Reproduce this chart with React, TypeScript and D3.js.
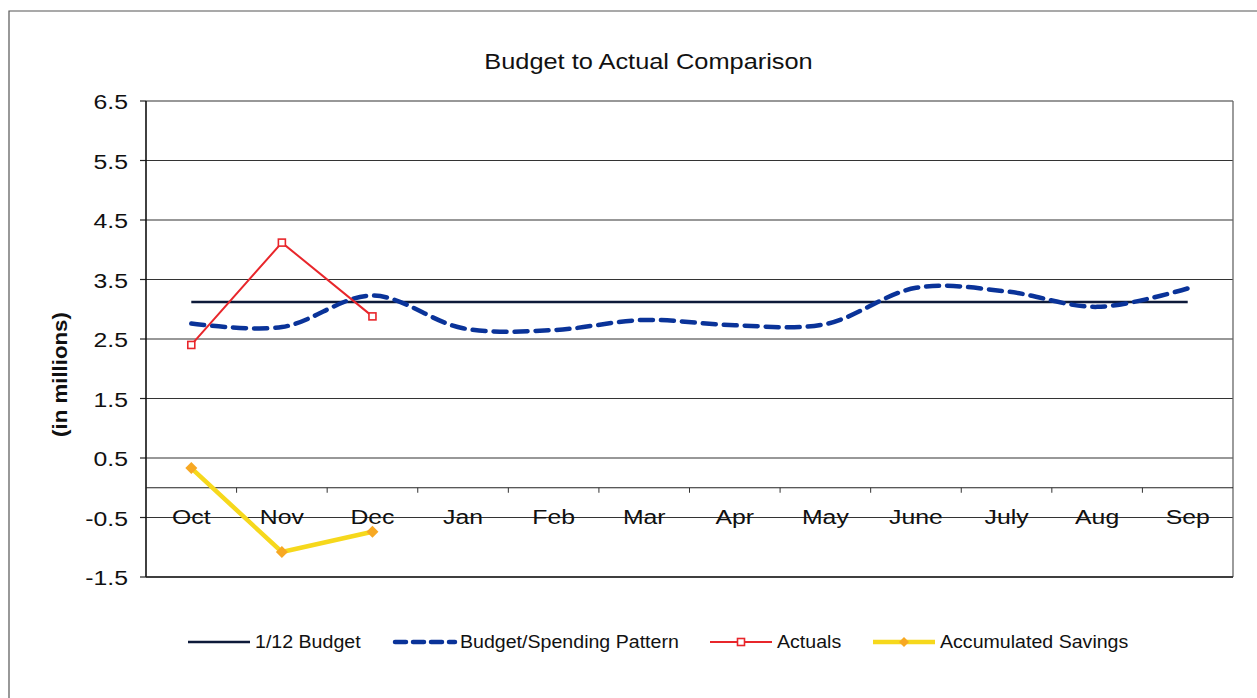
import React from "react";
import * as d3 from "d3";

const months = ["Oct", "Nov", "Dec", "Jan", "Feb", "Mar", "Apr", "May", "June", "July", "Aug", "Sep"];
const budget12 = [3.12, 3.12, 3.12, 3.12, 3.12, 3.12, 3.12, 3.12, 3.12, 3.12, 3.12, 3.12];
const spendingPattern = [2.76, 2.70, 3.23, 2.68, 2.65, 2.82, 2.73, 2.75, 3.36, 3.30, 3.04, 3.35];
const actuals = [2.40, 4.12, 2.88];
const savings = [0.33, -1.08, -0.74];
const yTicks = [6.5, 5.5, 4.5, 3.5, 2.5, 1.5, 0.5, -0.5, -1.5];
const legendLabels = ["1/12 Budget", "Budget/Spending Pattern", "Actuals", "Accumulated Savings"];

const W = 1257;
const H = 698;
const left = 146;
const right = 1233;
const top = 101;
const bottom = 577;
const FONT = "'Liberation Sans', Arial, sans-serif";
const SX = 1.18;

function T({
  x,
  y,
  children,
  size = 21,
  anchor = "start",
  sx = SX,
  rotate = 0,
  weight = "normal",
}: {
  x: number;
  y: number;
  children: React.ReactNode;
  size?: number;
  anchor?: string;
  sx?: number;
  rotate?: number;
  weight?: string;
}) {
  return (
    <g transform={`translate(${x},${y}) rotate(${rotate}) scale(${sx},1)`}>
      <text x={0} y={0} textAnchor={anchor as any} fontSize={size} fontWeight={weight} fill="#111">
        {children}
      </text>
    </g>
  );
}

export default function App() {
  const x = d3.scaleBand<string>().domain(months).range([left, right]).padding(0);
  const cx = (i: number) => (x(months[i]) as number) + x.bandwidth() / 2;
  const y = d3.scaleLinear().domain([-1.5, 6.5]).range([bottom, top]);

  const straight = d3.line<number>().x((_, i) => cx(i)).y((d) => y(d));
  const smooth = d3
    .line<number>()
    .x((_, i) => cx(i))
    .y((d) => y(d))
    .curve(d3.curveCatmullRom.alpha(0.5));

  const y0 = y(0);
  const boundaries = months.slice(1).map((m) => x(m) as number);

  const legendY = 642;
  const legendX = [188, 393, 710, 873];
  const kinds = ["budget", "pattern", "actual", "savings"];

  return (
    <svg
      width={W}
      height={H}
      style={{ position: "absolute", left: 0, top: 0, background: "#fff" }}
      fontFamily={FONT}
    >
      <rect x={0} y={0} width={W} height={H} fill="#fff" />
      {/* outer frame */}
      <path d={`M9,${H} V11 H${W}`} fill="none" stroke="#555" strokeWidth={1.2} />

      {/* title */}
      <T x={648.5} y={68.5} anchor="middle" size={21.5}>
        Budget to Actual Comparison
      </T>

      {/* gridlines */}
      {yTicks.map((t) => (
        <g key={t}>
          <line x1={left} x2={right} y1={y(t)} y2={y(t)} stroke="#333" strokeWidth={1.1} />
          <line x1={left - 6} x2={left} y1={y(t)} y2={y(t)} stroke="#222" strokeWidth={1.2} />
          <T x={128} y={y(t) + 8} anchor="end">
            {t.toFixed(1)}
          </T>
        </g>
      ))}

      {/* plot border */}
      <line x1={left} x2={left} y1={top} y2={bottom} stroke="#111" strokeWidth={1.6} />
      <line x1={right} x2={right} y1={top} y2={bottom} stroke="#666" strokeWidth={1.3} />
      <line x1={left} x2={right} y1={bottom} y2={bottom} stroke="#222" strokeWidth={1.4} />

      {/* zero axis */}
      <line x1={left} x2={right} y1={y0} y2={y0} stroke="#222" strokeWidth={1.2} />
      {boundaries.map((b, i) => (
        <line key={i} x1={b} x2={b} y1={y0} y2={y0 + 5} stroke="#333" strokeWidth={1} />
      ))}
      {months.map((m, i) => (
        <T key={m} x={cx(i)} y={y0 + 36} anchor="middle">
          {m}
        </T>
      ))}

      {/* y axis title */}
      <T x={67} y={374.5} anchor="middle" rotate={-90} size={21} weight="bold" sx={1.06}>
        (in millions)
      </T>

      {/* 1/12 budget */}
      <path d={straight(budget12) || ""} fill="none" stroke="#0d1a3a" strokeWidth={2.5} />

      {/* spending pattern */}
      <path
        d={smooth(spendingPattern) || ""}
        fill="none"
        stroke="#0a3399"
        strokeWidth={4.5}
        strokeDasharray="13 8"
        strokeLinecap="round"
      />

      {/* actuals */}
      <path d={straight(actuals) || ""} fill="none" stroke="#e8262b" strokeWidth={2} />
      {actuals.map((v, i) => (
        <rect
          key={i}
          x={cx(i) - 3.5}
          y={y(v) - 3.5}
          width={7}
          height={7}
          fill="#fff"
          stroke="#e8262b"
          strokeWidth={1.6}
        />
      ))}

      {/* savings */}
      <path d={straight(savings) || ""} fill="none" stroke="#f6d81c" strokeWidth={4.5} />
      {savings.map((v, i) => (
        <path
          key={i}
          d={`M${cx(i)},${y(v) - 6} L${cx(i) + 6},${y(v)} L${cx(i)},${y(v) + 6} L${cx(i) - 6},${y(v)} Z`}
          fill="#f7a823"
        />
      ))}

      {/* legend */}
      {legendLabels.map((label, k) => {
        const x1 = legendX[k];
        const x2 = x1 + 62;
        const mid = (x1 + x2) / 2;
        const kind = kinds[k];
        return (
          <g key={label}>
            {kind === "budget" && (
              <line x1={x1} x2={x2} y1={legendY} y2={legendY} stroke="#0d1a3a" strokeWidth={2.5} />
            )}
            {kind === "pattern" && (
              <line
                x1={x1 + 2}
                x2={x2}
                y1={legendY}
                y2={legendY}
                stroke="#0a3399"
                strokeWidth={4.5}
                strokeDasharray="11 7"
                strokeLinecap="round"
              />
            )}
            {kind === "actual" && (
              <g>
                <line x1={x1} x2={x2} y1={legendY} y2={legendY} stroke="#e8262b" strokeWidth={2} />
                <rect x={mid - 3.5} y={legendY - 3.5} width={7} height={7} fill="#fff" stroke="#e8262b" strokeWidth={1.6} />
              </g>
            )}
            {kind === "savings" && (
              <g>
                <line x1={x1} x2={x2} y1={legendY} y2={legendY} stroke="#f6d81c" strokeWidth={4.5} />
                <path
                  d={`M${mid},${legendY - 5} L${mid + 5},${legendY} L${mid},${legendY + 5} L${mid - 5},${legendY} Z`}
                  fill="#f7a823"
                />
              </g>
            )}
            <T x={x2 + 5} y={legendY + 6} size={17.5} sx={1.12}>
              {label}
            </T>
          </g>
        );
      })}
    </svg>
  );
}
